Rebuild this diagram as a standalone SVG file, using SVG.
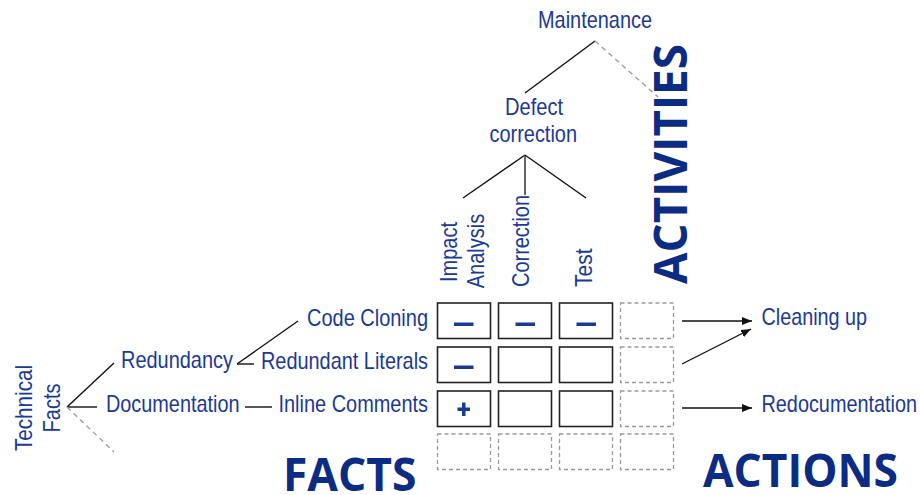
<svg xmlns="http://www.w3.org/2000/svg" width="920" height="495" viewBox="0 0 920 495">
  <defs>
    <style>
      .lbl { font-family: "Liberation Sans", Arial, sans-serif; font-size: 24px; fill: #1b3a94; }
      .big { font-family: "Open Sans", "Noto Sans", sans-serif; font-weight: 700; font-size: 47px; fill: #0c2b82; }
      .link { stroke: #111; stroke-width: 1.4; fill: none; }
      .dash { stroke: #999; stroke-width: 1.3; stroke-dasharray: 5 4; fill: none; }
      .arrow { stroke: #111; stroke-width: 1.4; fill: none; marker-end: url(#head); }
      .cell { fill: #fff; stroke: #222; stroke-width: 1.6; }
      .cell-open { fill: none; stroke: #9a9a9a; stroke-width: 1.3; stroke-dasharray: 4 3; }
      .mark { fill: #1b3a94; }
    </style>
    <marker id="head" viewBox="0 0 10 8" refX="10" refY="4" markerWidth="10" markerHeight="8" markerUnits="userSpaceOnUse" orient="auto">
      <path d="M0,0 L10,4 L0,8 Z" fill="#111"/>
    </marker>
  </defs>

  <!-- connectors -->
  <g id="connectors">
    <line class="link" x1="595" y1="41" x2="525" y2="93"/>
    <line class="dash" x1="595" y1="41" x2="658" y2="97"/>
    <line class="link" x1="525" y1="155" x2="463" y2="198"/>
    <line x1="525" y1="155" x2="525" y2="195" stroke="#555" stroke-width="1.8"/>
    <line class="link" x1="525" y1="155" x2="586" y2="198"/>
    <line class="link" x1="67" y1="407" x2="114" y2="363"/>
    <line class="link" x1="67" y1="407" x2="97" y2="407"/>
    <line class="dash" x1="67" y1="407" x2="114" y2="452"/>
    <line class="link" x1="237" y1="364" x2="298" y2="321"/>
    <line class="link" x1="237" y1="364" x2="254" y2="364"/>
    <line class="link" x1="245" y1="407" x2="272" y2="407"/>
    <line class="arrow" x1="682" y1="321" x2="752" y2="321"/>
    <line class="arrow" x1="682" y1="364" x2="751" y2="329"/>
    <line class="arrow" x1="682" y1="408" x2="752" y2="408"/>
  </g>

  <!-- activity tree -->
  <g id="maintenance">
    <text class="lbl" x="538" y="28" textLength="114" lengthAdjust="spacingAndGlyphs">Maintenance</text>
  </g>
  <g id="defect-correction">
    <text class="lbl" x="505" y="115" textLength="58" lengthAdjust="spacingAndGlyphs">Defect</text>
    <text class="lbl" x="489.5" y="142" textLength="87.5" lengthAdjust="spacingAndGlyphs">correction</text>
  </g>
  <g id="impact-analysis">
    <text class="lbl" transform="translate(457,252) rotate(-90)" text-anchor="middle" textLength="60" lengthAdjust="spacingAndGlyphs">Impact</text>
    <text class="lbl" transform="translate(483.5,251) rotate(-90)" text-anchor="middle" textLength="74.5" lengthAdjust="spacingAndGlyphs">Analysis</text>
  </g>
  <g id="correction">
    <text class="lbl" transform="translate(528.5,287) rotate(-90)" textLength="92" lengthAdjust="spacingAndGlyphs">Correction</text>
  </g>
  <g id="test">
    <text class="lbl" transform="translate(591.5,287) rotate(-90)" textLength="38.5" lengthAdjust="spacingAndGlyphs">Test</text>
  </g>
  <g id="activities">
    <text class="big" transform="translate(687,284) rotate(-90)" textLength="240" lengthAdjust="spacingAndGlyphs">ACTIVITIES</text>
  </g>

  <!-- fact tree -->
  <g id="technical-facts">
    <text class="lbl" transform="translate(32,408) rotate(-90)" text-anchor="middle" textLength="86" lengthAdjust="spacingAndGlyphs">Technical</text>
    <text class="lbl" transform="translate(60,408) rotate(-90)" text-anchor="middle" textLength="49" lengthAdjust="spacingAndGlyphs">Facts</text>
  </g>
  <g id="redundancy">
    <text class="lbl" x="121" y="368" textLength="112" lengthAdjust="spacingAndGlyphs">Redundancy</text>
  </g>
  <g id="documentation">
    <text class="lbl" x="106" y="412" textLength="133.5" lengthAdjust="spacingAndGlyphs">Documentation</text>
  </g>
  <g id="code-cloning">
    <text class="lbl" x="307" y="326" textLength="121" lengthAdjust="spacingAndGlyphs">Code Cloning</text>
  </g>
  <g id="redundant-literals">
    <text class="lbl" x="261" y="369" textLength="167" lengthAdjust="spacingAndGlyphs">Redundant Literals</text>
  </g>
  <g id="inline-comments">
    <text class="lbl" x="278.5" y="412" textLength="149.5" lengthAdjust="spacingAndGlyphs">Inline Comments</text>
  </g>
  <g id="facts">
    <text class="big" x="283" y="491" textLength="133.5" lengthAdjust="spacingAndGlyphs">FACTS</text>
  </g>

  <!-- impact matrix -->
  <g id="matrix">
    <rect class="cell" x="437.5" y="303" width="53" height="35.5"/>
    <rect class="cell" x="498.5" y="303" width="53" height="35.5"/>
    <rect class="cell" x="559.5" y="303" width="53" height="35.5"/>
    <rect class="cell-open" x="620.5" y="303" width="53" height="35.5"/>

    <rect class="cell" x="437.5" y="347" width="53" height="35.5"/>
    <rect class="cell" x="498.5" y="347" width="53" height="35.5"/>
    <rect class="cell" x="559.5" y="347" width="53" height="35.5"/>
    <rect class="cell-open" x="620.5" y="347" width="53" height="35.5"/>

    <rect class="cell" x="437.5" y="391" width="53" height="35.5"/>
    <rect class="cell" x="498.5" y="391" width="53" height="35.5"/>
    <rect class="cell" x="559.5" y="391" width="53" height="35.5"/>
    <rect class="cell-open" x="620.5" y="391" width="53" height="35.5"/>

    <rect class="cell-open" x="437.5" y="434" width="53" height="35.5"/>
    <rect class="cell-open" x="498.5" y="434" width="53" height="35.5"/>
    <rect class="cell-open" x="559.5" y="434" width="53" height="35.5"/>
    <rect class="cell-open" x="620.5" y="434" width="53" height="35.5"/>

    <!-- ratings -->
    <rect class="mark" x="454" y="322.5" width="19.5" height="3.5"/>
    <rect class="mark" x="515.5" y="322.5" width="19.5" height="3.5"/>
    <rect class="mark" x="576.5" y="322.5" width="19.5" height="3.5"/>
    <rect class="mark" x="454" y="365.5" width="19.5" height="3.5"/>
    <rect class="mark" x="457.5" y="407.5" width="12.5" height="3.5"/>
    <rect class="mark" x="462" y="402.5" width="3.5" height="13.5"/>
  </g>

  <!-- actions -->
  <g id="cleaning-up">
    <text class="lbl" x="761.5" y="325" textLength="105.5" lengthAdjust="spacingAndGlyphs">Cleaning up</text>
  </g>
  <g id="redocumentation">
    <text class="lbl" x="761.5" y="412" textLength="155.5" lengthAdjust="spacingAndGlyphs">Redocumentation</text>
  </g>
  <g id="actions">
    <text class="big" x="703" y="486.5" textLength="195" lengthAdjust="spacingAndGlyphs">ACTIONS</text>
  </g>
</svg>
